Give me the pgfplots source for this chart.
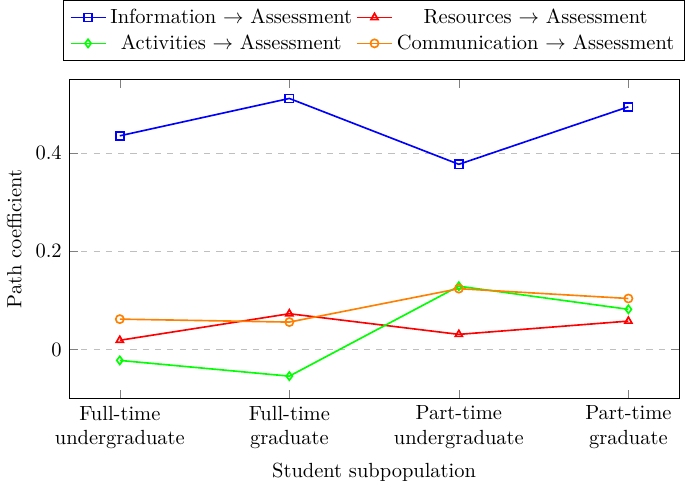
\documentclass[border=0pt]{standalone}
\usepackage{pgfplots}
\pgfplotsset{compat=1.18}
\begin{document}
\begin{tikzpicture}
\begin{axis}[
    scale only axis,
    width=298pt,
    height=156pt,
    xmin=-0.3, xmax=3.3,
    ymin=-0.1, ymax=0.55,
    xtick={0,1,2,3},
    xticklabels={Full-time\\undergraduate, Full-time\\graduate, Part-time\\undergraduate, Part-time\\graduate},
    xticklabel style={align=center},
    ytick={0,0.2,0.4},
    xlabel={Student subpopulation},
    ylabel={Path coefficient},
    ymajorgrids=true,
    grid style={dashed, gray!50},
    legend columns=2,
    legend cell align=center,
    legend style={at={(0.5,1)}, yshift=9pt, anchor=south},
    every axis plot/.append style={thick},
]
\addplot[color=blue, mark=square]
    coordinates {(0,0.435)(1,0.511)(2,0.377)(3,0.494)};
\addplot[color=red, mark=triangle]
    coordinates {(0,0.019)(1,0.073)(2,0.031)(3,0.058)};
\addplot[color=green, mark=diamond]
    coordinates {(0,-0.022)(1,-0.054)(2,0.129)(3,0.082)};
\addplot[color=orange, mark=o]
    coordinates {(0,0.062)(1,0.056)(2,0.124)(3,0.104)};
\legend{Information $\rightarrow$ Assessment, Resources $\rightarrow$ Assessment,
        Activities $\rightarrow$ Assessment, Communication $\rightarrow$ Assessment}
\end{axis}
\end{tikzpicture}
\end{document}
